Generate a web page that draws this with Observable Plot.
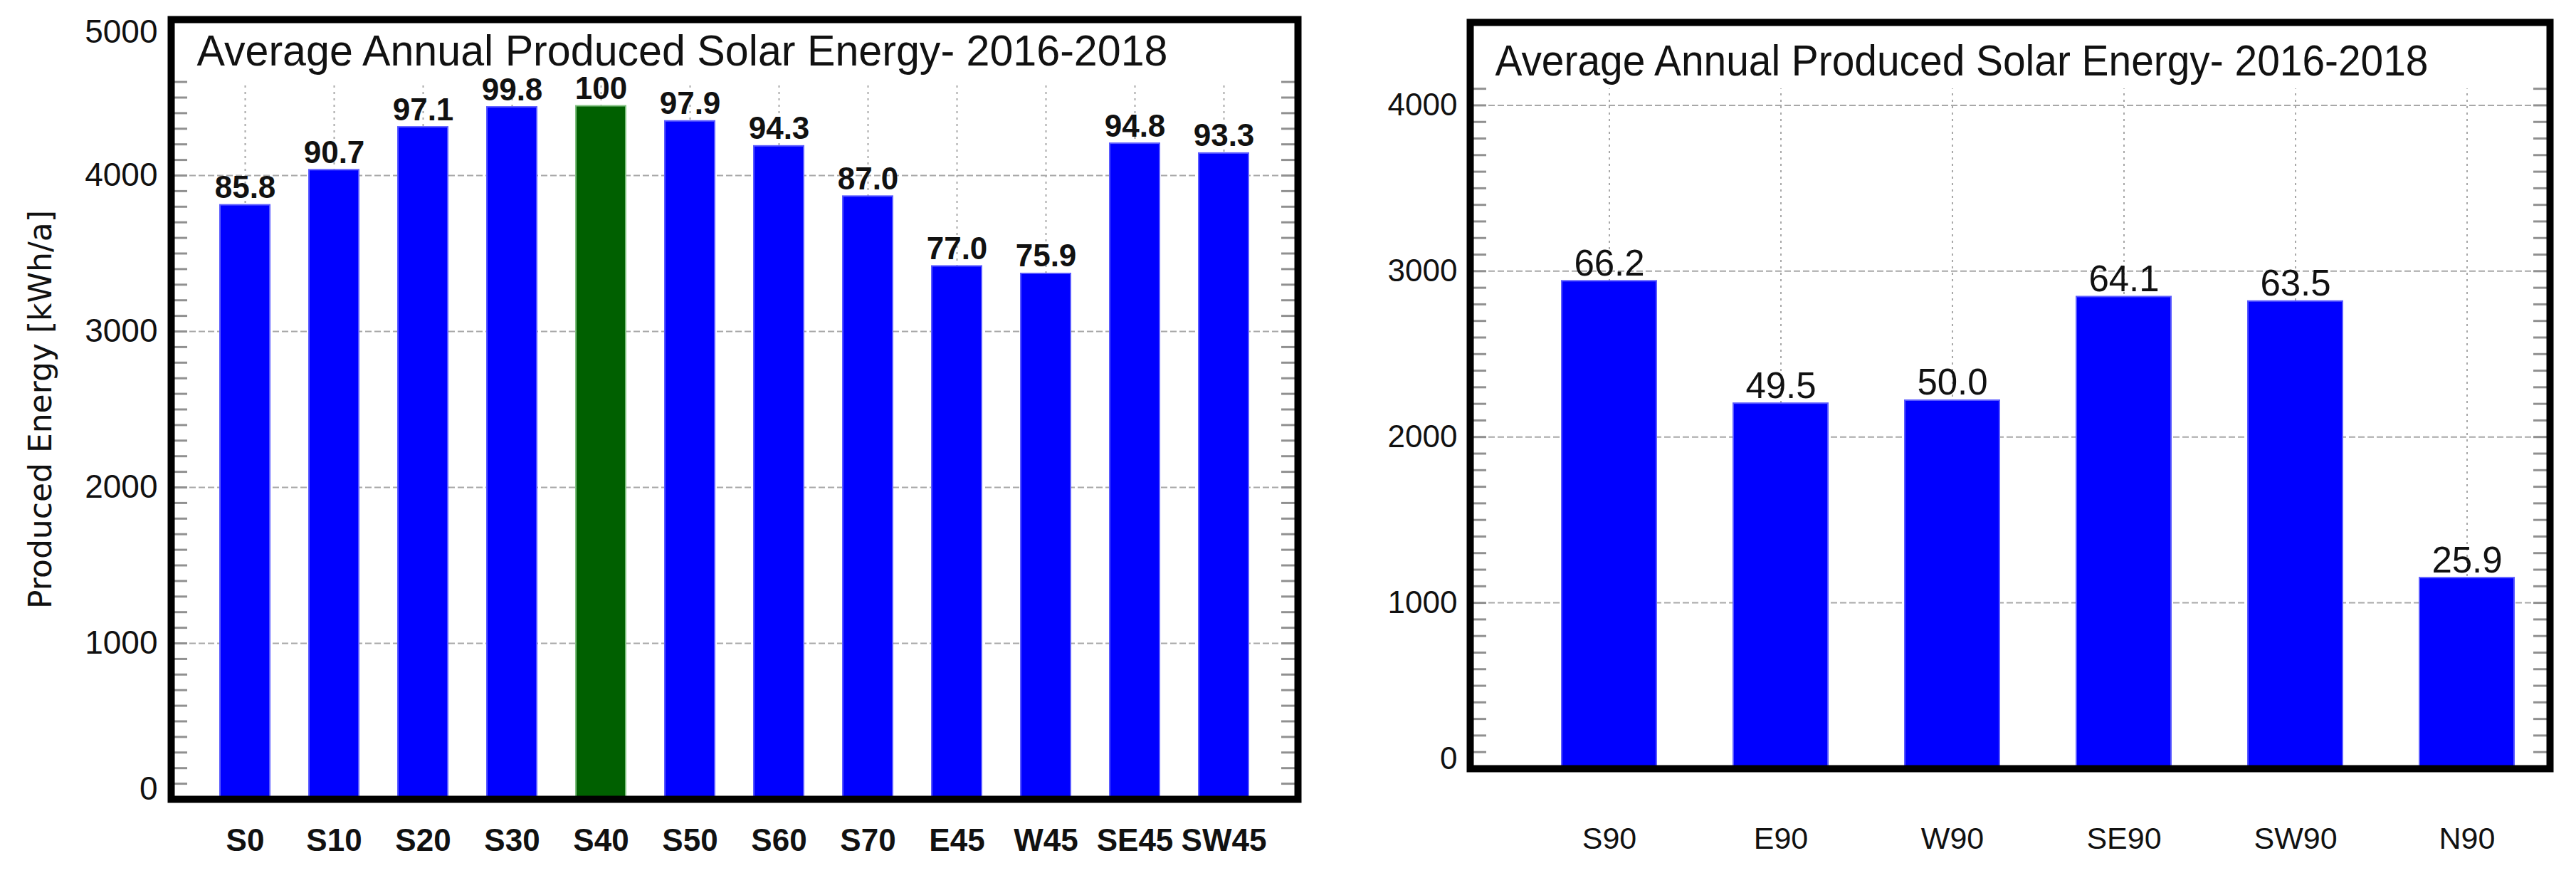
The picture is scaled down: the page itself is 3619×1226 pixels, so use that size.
<!DOCTYPE html>
<html>
<head>
<meta charset="utf-8">
<script src="https://cdn.jsdelivr.net/npm/d3@7"></script>
<script src="https://cdn.jsdelivr.net/npm/@observablehq/plot@0.6"></script>
<style>
  html, body { margin: 0; padding: 0; background: #fff; }
  #wrap { position: relative; width: 3619px; height: 1226px; overflow: hidden; background: #fff; }
  #left { position: absolute; left: 0; top: 0; }
  #right { position: absolute; left: 1840px; top: 0; }
  svg { overflow: visible; }
</style>
</head>
<body>
<div id="wrap"><div id="left"></div><div id="right"></div></div>
<script>
// ---------- data ----------
const titleText = "Average Annual Produced Solar Energy- 2016-2018";
const yLabelLeft = "Produced Energy [kWh/a]";

const leftCategories = ["S0", "S10", "S20", "S30", "S40", "S50", "S60", "S70", "E45", "W45", "SE45", "SW45"];
const leftEnergy = [3810, 4035, 4310, 4438, 4445, 4348, 4188, 3866, 3418, 3370, 4205, 4142];
const leftPercent = ["85.8", "90.7", "97.1", "99.8", "100", "97.9", "94.3", "87.0", "77.0", "75.9", "94.8", "93.3"];
const leftHighlight = "S40";
const leftYTicks = [0, 1000, 2000, 3000, 4000, 5000];

const rightCategories = ["S90", "E90", "W90", "SE90", "SW90", "N90"];
const rightEnergy = [2940, 2202, 2220, 2845, 2818, 1150];
const rightPercent = ["66.2", "49.5", "50.0", "64.1", "63.5", "25.9"];
const rightYTicks = [0, 1000, 2000, 3000, 4000];

// ---------- drawing ----------
const SANS = "'Liberation Sans', Arial, sans-serif";
const BLUE = "#0000ff", BLUE_EDGE = "#5a5aff";
const GREEN = "#006000", GREEN_EDGE = "#80c080";
const GRID = "#a8a8a8", MINOR = "#909090";
const fmt = d => String(d);

function chart(o) {
  const data = o.categories.map((c, i) => ({cat: c, val: o.energy[i], pct: o.percent[i]}));
  const minor = d3.range(100, o.gridTop + 1, 100);
  const majorGrid = o.yTicks.filter(t => t > 0 && t <= o.gridTop);
  const top = o.yDomain[1];
  const midTicks = o.yTicks.filter(t => t > 0 && t < top);
  const endTicks = o.yTicks.filter(t => t === top);
  const plotW = o.width - o.ml - o.mr;
  const axisFont = {fontSize: o.yFont, fontFamily: SANS, label: null, tickSize: 0, tickPadding: o.yPad, tickFormat: fmt};

  const marks = [
    Plot.gridY({ticks: majorGrid, stroke: GRID, strokeOpacity: 1, strokeWidth: 2, strokeDasharray: "9,4"}),
    Plot.ruleX(o.categories, {y1: 0, y2: o.gridTop, stroke: GRID, strokeWidth: 2, strokeDasharray: "3,6"}),
    Plot.ruleY(minor, {y: d => d, insetRight: plotW - 23, stroke: MINOR, strokeWidth: 3}),
    Plot.ruleY(minor, {y: d => d, insetLeft: plotW - 23, stroke: MINOR, strokeWidth: 3}),
    Plot.barY(data.filter(d => d.cat !== o.highlight), {x: "cat", y: "val", fill: BLUE, stroke: BLUE_EDGE, strokeWidth: 2}),
    Plot.barY(data.filter(d => d.cat === o.highlight), {x: "cat", y: "val", fill: GREEN, stroke: GREEN_EDGE, strokeWidth: 2}),
    Plot.text(data, {x: "cat", y: "val", text: "pct", dy: o.valDy, lineAnchor: "bottom", fontSize: o.valFont,
      fontWeight: o.valWeight, fontFamily: SANS, fill: "#111"}),
    Plot.axisY({ticks: midTicks, anchor: "left", ...axisFont}),
    Plot.axisY({ticks: [0], anchor: "left", ...axisFont, dy: -14}),
    Plot.axisX({anchor: "bottom", tickSize: 0, tickPadding: o.xPad, fontSize: o.xFont, fontWeight: o.xWeight,
      fontFamily: SANS, label: null}),
    Plot.frame({stroke: "#000", strokeWidth: 10}),
    Plot.text([titleText], {frameAnchor: "top-left", dx: o.titleDx, dy: o.titleDy, lineAnchor: "bottom",
      textAnchor: "start", fontSize: 61, fontFamily: SANS, fill: "#111"})
  ];
  if (endTicks.length) marks.push(Plot.axisY({ticks: endTicks, anchor: "left", ...axisFont, dy: 18}));
  if (o.yLabel) marks.push(Plot.text([o.yLabel], {frameAnchor: "left", rotate: -90, dx: o.yLabelDx,
    textAnchor: "middle", lineAnchor: "middle",
    fontSize: 44, fontFamily: "DejaVu Sans", fill: "#111"}));

  const svg = Plot.plot({
    width: o.width, height: 1226,
    marginLeft: o.ml, marginRight: o.mr, marginTop: o.mt, marginBottom: o.mb,
    style: {background: "transparent", fontFamily: SANS, color: "#111"},
    x: {type: "band", domain: o.categories, paddingInner: o.pi, paddingOuter: o.po, align: o.align},
    y: {domain: o.yDomain},
    marks
  });
  svg.querySelectorAll("text").forEach(t => {
    if (t.textContent === titleText) {
      t.setAttribute("textLength", o.titleLen);
      t.setAttribute("lengthAdjust", "spacingAndGlyphs");
    }
  });
  return svg;
}

document.getElementById("left").appendChild(chart({
  categories: leftCategories, energy: leftEnergy, percent: leftPercent, highlight: leftHighlight,
  yTicks: leftYTicks, yDomain: [0, 5000], gridTop: 4600,
  width: 1840, ml: 240, mr: 17, mt: 27, mb: 104,
  pi: 0.44, po: 0.534, align: 0.5,
  yFont: 46, yPad: 19, xFont: 44, xWeight: "bold", xPad: 41,
  valFont: 44, valWeight: "bold", valDy: -10,
  titleDx: 36, titleDy: 64, titleLen: 1364,
  yLabel: yLabelLeft, yLabelDx: -183
}));

document.getElementById("right").appendChild(chart({
  categories: rightCategories, energy: rightEnergy, percent: rightPercent, highlight: null,
  yTicks: rightYTicks, yDomain: [0, 4500], gridTop: 4100,
  width: 1779, ml: 225, mr: 37, mt: 31, mb: 147,
  pi: 0.448, po: 0.371, align: 0.72,
  yFont: 44, yPad: 18, xFont: 43, xWeight: "normal", xPad: 82,
  valFont: 51, valWeight: "normal", valDy: -8,
  titleDx: 35, titleDy: 74, titleLen: 1311,
  yLabel: null
}));
</script>
</body>
</html>
